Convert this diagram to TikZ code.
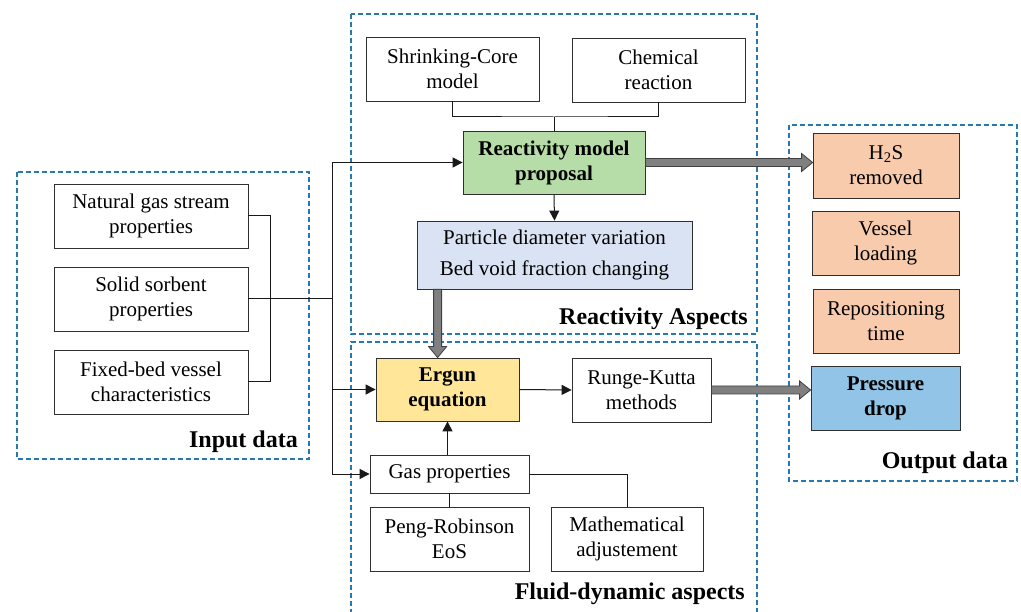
\documentclass[tikz,border=0pt]{standalone}
\usepackage{fontspec}
\setmainfont{Liberation Serif}
\usetikzlibrary{arrows.meta,calc}
\definecolor{dblue}{HTML}{2878B0}
\definecolor{gfill}{HTML}{B6DDA8}
\definecolor{bfill}{HTML}{DAE3F3}
\definecolor{yfill}{HTML}{FFE699}
\definecolor{ofill}{HTML}{F8CBAD}
\definecolor{pfill}{HTML}{91C4E6}
\definecolor{bordc}{HTML}{303030}
\newcommand\fatH[2]{\draw[fat] let \p1=#1, \p2=#2 in (\x1,\y1+4pt) -- (\x2-11pt,\y1+4pt) -- (\x2-11pt,\y1+9pt) -- (\x2,\y1) -- (\x2-11pt,\y1-9pt) -- (\x2-11pt,\y1-4pt) -- (\x1,\y1-4pt) -- cycle;}
\newcommand\fatV[2]{\draw[fat] let \p1=#1, \p2=#2 in (\x1-4pt,\y1) -- (\x1-4pt,\y2+11pt) -- (\x1-9pt,\y2+11pt) -- (\x1,\y2) -- (\x1+9pt,\y2+11pt) -- (\x1+4pt,\y2+11pt) -- (\x1+4pt,\y1) -- cycle;}
\begin{document}
\begin{tikzpicture}[x=1pt,y=-1pt,
  box/.style={draw=bordc, line width=0.8pt, inner sep=0pt, align=center,
    font=\fontsize{21}{25}\selectfont, text=black},
  bbox/.style={box, font=\fontsize{21}{25}\selectfont\bfseries},
  dashbox/.style={draw=dblue, line width=1.3pt, dash pattern=on 5pt off 3pt},
  conn/.style={draw=black!90, line width=1pt},
  arr/.style={conn, -{Triangle[length=10pt,width=10pt]}},
  fat/.style={fill=black!50, draw=black!75, line width=0.8pt},
  title/.style={font=\fontsize{24}{28}\selectfont\bfseries, anchor=base east, inner sep=0pt}]
\useasboundingbox (0,0) rectangle (1021,612);
\fill[white] (0,0) rectangle (1021,612);
% dashed group frames
\draw[dashbox] (351,14) rectangle (757,334);
\draw[dashbox] (351,614) -- (351,342) -- (757,342) -- (757,614);
\draw[dashbox] (17,172) rectangle (309,459);
\draw[dashbox] (789,125) rectangle (1017,481);
% titles
\node[title] (treac) at (748,325) {Reactivity Aspects};
\node[title] (tfluid) at (745,599) {Fluid-dynamic aspects};
\node[title] (tin) at (298,448) {Input data};
\node[title] (tout) at (1008,468) {Output data};
% reactivity nodes
\node[box, minimum width=173pt, minimum height=64pt] (shrink) at (452.5,69) {Shrinking-Core\\model};
\node[box, minimum width=173pt, minimum height=64pt] (chem) at (658.5,70) {Chemical\\reaction};
\node[bbox, fill=gfill, minimum width=182pt, minimum height=63pt] (reac) at (554,162.5) {Reactivity model\\proposal};
\node[box, fill=bfill, minimum width=275pt, minimum height=68pt, font=\fontsize{21}{31}\selectfont] (part) at (554.5,255) {Particle diameter variation\\Bed void fraction changing};
% input nodes
\node[box, minimum width=194pt, minimum height=64pt] (nat) at (151,216) {Natural gas stream\\properties};
\node[box, minimum width=194pt, minimum height=64pt] (sol) at (151,299) {Solid sorbent\\properties};
\node[box, minimum width=194pt, minimum height=64pt] (fix) at (151,382) {Fixed-bed vessel\\characteristics};
% fluid nodes
\node[bbox, fill=yfill, minimum width=143pt, minimum height=63pt] (erg) at (447.5,389.5) {Ergun\\equation};
\node[box, minimum width=139pt, minimum height=64pt] (rk) at (641.5,390) {Runge-Kutta\\methods};
\node[box, minimum width=159pt, minimum height=38pt] (gas) at (449.5,474) {Gas properties};
\node[box, minimum width=159pt, minimum height=64pt] (peng) at (449.5,539) {Peng-Robinson\\EoS};
\node[box, minimum width=152pt, minimum height=64pt] (math) at (627,539) {Mathematical\\adjustement};
% output nodes
\node[box, fill=ofill, minimum width=146pt, minimum height=65pt] (h2s) at (886,165.5) {H\textsubscript{2}S\\removed};
\node[box, fill=ofill, minimum width=147pt, minimum height=64pt] (ves) at (885.5,243) {Vessel\\loading};
\node[box, fill=ofill, minimum width=146pt, minimum height=64pt] (rep) at (886,321) {Repositioning\\time};
\node[bbox, fill=pfill, minimum width=149pt, minimum height=64pt] (pd) at (885.5,398) {Pressure\\drop};
% connectors
\coordinate (tj) at (554,117);
\draw[conn] (shrink.south) |- (tj) -| (chem.south);
\draw[conn] (tj) -- (reac.north);
\draw[arr] (reac.south) -- (part.north);
\draw[conn] (nat.east) -- ++(22,0) |- (fix.east);
\coordinate (jn) at (332,299);
\draw[conn] (sol.east) -- (jn);
\draw[arr] (jn) |- (reac.west);
\draw[arr] (jn) |- (erg.west);
\draw[arr] (jn) |- (gas.west);
\draw[arr] (erg.east) -- (rk.west);
\draw[arr] (gas.north -| erg.south) -- (erg.south);
\draw[conn] (gas.east) -| (math.north);
\draw[conn] (gas.south) -- (peng.north);
% fat arrows
\fatH{(reac.east)}{(h2s.west)}
\fatH{(rk.east)}{(pd.west)}
\fatV{($(part.south west)+(21,0)$)}{(erg.north)}
\end{tikzpicture}
\end{document}
